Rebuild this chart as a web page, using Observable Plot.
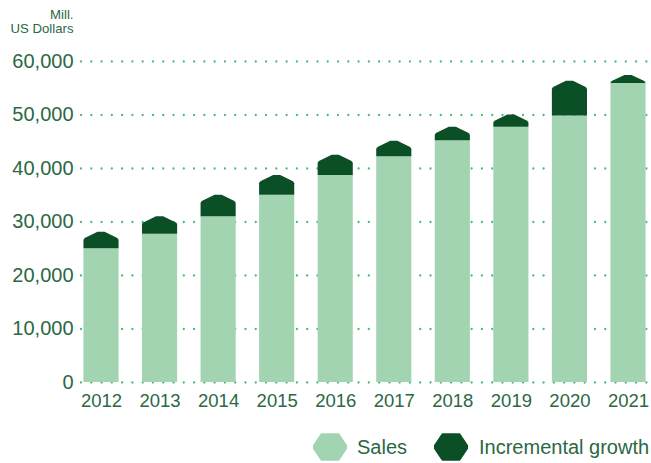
<!DOCTYPE html>
<html>
<head>
<meta charset="utf-8">
<script src="https://cdn.jsdelivr.net/npm/d3@7"></script>
<script src="https://cdn.jsdelivr.net/npm/@observablehq/plot@0.6"></script>
<style>
  body { margin: 0; background: #ffffff; font-family: "Liberation Sans", Arial, sans-serif; }
  #chart { width: 651px; }
  .legend { display: flex; align-items: center; height: 30px; margin-top: 12px; padding-left: 313px; color: #2b6844; font-size: 20px; white-space: nowrap; }
  .legend svg { display: block; }
</style>
</head>
<body>
<div id="chart"></div>
<script>
const years = [2012, 2013, 2014, 2015, 2016, 2017, 2018, 2019, 2020, 2021];
const sales = [25000, 27700, 31000, 35000, 38700, 42200, 45200, 47700, 49800, 55900];
const growth = [3100, 3300, 4000, 3700, 3800, 2900, 2500, 2300, 6500, 1500];
const yTicks = [0, 10000, 20000, 30000, 40000, 50000, 60000];
const yTitle = "Mill.\nUS Dollars";
const seriesNames = ["Sales", "Incremental growth"];

const lightGreen = "#a2d4b1";
const darkGreen = "#0b4f26";
const textGreen = "#2b6844";
const dotGreen = "#45bd77";

const bars = years.map((year, i) => ({year, sales: sales[i], growth: growth[i]}));

// roof profile for the incremental-growth caps
const half = 0.3;
const roofPx = 1550;
const roofPts = [];
for (const d of bars) {
  const top = d.sales + d.growth;
  const r = Math.min(roofPx, d.growth);
  const sh = top - r;
  const prof = [
    [-half, sh], [-0.29, sh + 0.15 * r], [-0.27, sh + 0.27 * r],
    [-0.06, top], [0.06, top],
    [0.27, sh + 0.27 * r], [0.29, sh + 0.15 * r], [half, sh]
  ];
  for (const [dx, y2] of prof) roofPts.push({year: d.year, x: d.year + dx, y1: d.sales, y2});
}

const fontStack = "'Liberation Sans', Arial, sans-serif";

const plot = Plot.plot({
  width: 651,
  height: 420,
  marginLeft: 78,
  marginRight: 0,
  marginTop: 61,
  marginBottom: 38,
  style: {fontFamily: fontStack, color: textGreen, background: "#ffffff"},
  x: {domain: [2011.607, 2021.393]},
  y: {domain: [0, 60000]},
  marks: [
    Plot.ruleY(yTicks, {stroke: dotGreen, strokeWidth: 2.3, strokeDasharray: "0 10.28", strokeLinecap: "round", strokeDashoffset: -3}),
    Plot.rect(bars, {x1: d => d.year - half, x2: d => d.year + half, y1: () => 0, y2: "sales", fill: lightGreen}),
    Plot.area(roofPts, {x1: "x", y1: "y1", y2: "y2", z: "year", fill: darkGreen, curve: "linear"}),
    Plot.axisY({ticks: yTicks, tickSize: 0, tickPadding: 5, tickFormat: d3.format(","), fontSize: 20, fill: textGreen, label: null}),
    Plot.axisX({ticks: years, tickSize: 0, tickPadding: 11, tickFormat: d => String(d), fontSize: 18.5, fill: textGreen, label: null}),
    Plot.text([yTitle], {frameAnchor: "top-left", text: d => d, textAnchor: "end", lineAnchor: "top", dx: -5, dy: -53.5, fontSize: 13.2, lineHeight: 1.12, fill: textGreen})
  ]
});
document.getElementById("chart").appendChild(plot);

// legend
const legend = document.createElement("div");
legend.className = "legend";
const hex = (color) => {
  const r = 17, h = Math.sqrt(3) / 2 * r;
  const pts = d3.range(6).map(k => {
    const a = Math.PI / 3 * k;
    return [r + r * Math.cos(a), 15 + h * Math.sin(a)];
  });
  return `<svg width="34" height="30" viewBox="0 0 34 30"><path d="M${pts.map(p => p.join(",")).join("L")}Z" fill="${color}" stroke="${color}" stroke-width="2" stroke-linejoin="round"/></svg>`;
};
legend.innerHTML =
  `${hex(lightGreen)}<span style="margin-left:10px;margin-right:27px">${seriesNames[0]}</span>` +
  `${hex(darkGreen)}<span style="margin-left:11px">${seriesNames[1]}</span>`;
document.body.appendChild(legend);
</script>
</body>
</html>
